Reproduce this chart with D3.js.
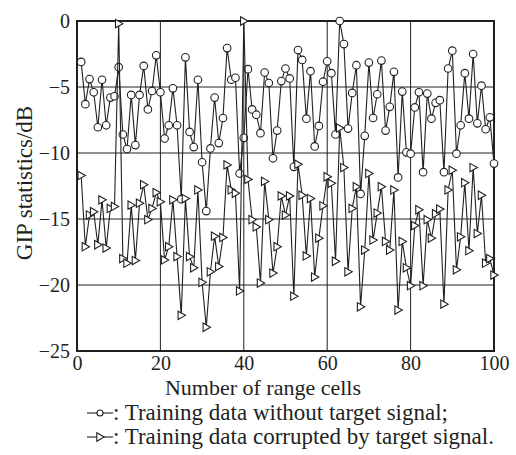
<!DOCTYPE html>
<html>
<head>
<meta charset="utf-8">
<script src="https://cdn.jsdelivr.net/npm/d3@7"></script>
<style>
	body { margin: 0; background: #fff; }
	svg text { font-family: "Liberation Serif", "Times New Roman", serif; fill: #231f20; }
</style>
</head>
<body>
<svg width="516" height="455"></svg>
<script>
// range cell index 1..100
const cells = d3.range(1, 101);

// GIP statistics (dB), training data without target signal
const cleanGip = [
	-3.1, -6.3, -4.4, -5.4, -8.05, -4.45, -7.9, -5.8, -5.7, -3.5,
	-8.6, -9.7, -5.6, -9.4, -5.6, -3.4, -6.7, -5.3, -2.6, -5.4,
	-8.9, -7.9, -5.1, -7.9, -13.5, -2.75, -8.4, -9.55, -4.45, -10.7,
	-14.4, -9.65, -5.8, -9.25, -7.35, -2.05, -4.45, -4.3, -11.55, -8.85,
	-3.65, -6.7, -7.1, -8.5, -3.9, -4.7, -10.4, -8.3, -4.55, -3.6,
	-4.35, -11.05, -2.2, -2.95, -7.4, -3.8, -9.5, -7.95, -4.6, -3.05,
	-3.95, -8.6, 0, -1.75, -8.15, -5.45, -3.35, -13.1, -8.7, -3.15,
	-7.35, -5.55, -3.0, -8.3, -6.5, -3.85, -11.85, -5.35, -9.95, -10.05,
	-6.55, -5.4, -11.45, -5.5, -7.4, -6.2, -6.0, -11.45, -3.6, -2.25,
	-10.05, -7.9, -3.95, -7.4, -2.5, -7.75, -4.9, -8.2, -7.3, -10.8
];

// GIP statistics (dB), training data corrupted by target signal
const corruptGip = [
	-11.7, -17.1, -14.7, -14.45, -16.95, -13.55, -17.2, -14.2, -14.05, -0.2,
	-18.0, -18.35, -13.95, -18.15, -13.8, -12.4, -15.05, -14.2, -13.0, -13.7,
	-18.1, -17.1, -13.55, -17.85, -22.3, -13.45, -17.85, -18.7, -12.8, -19.8,
	-23.2, -19.0, -16.3, -18.6, -16.4, -10.9, -12.8, -13.05, -20.45, 0,
	-12.0, -15.05, -15.6, -19.85, -12.15, -15.05, -19.1, -17.1, -13.25, -14.7,
	-13.25, -20.85, -10.85, -13.2, -17.8, -13.45, -19.4, -16.45, -14.0, -11.8,
	-12.3, -18.2, -8.1, -11.1, -19.0, -14.2, -12.55, -21.65, -17.35, -11.55,
	-16.6, -14.55, -12.55, -16.7, -17.35, -12.8, -21.9, -16.7, -18.7, -20.05,
	-15.5, -14.3, -20.05, -15.05, -16.45, -14.6, -14.25, -21.45, -12.8, -11.3,
	-18.85, -16.35, -12.25, -17.4, -11.1, -16.1, -13.2, -18.35, -18.0, -19.25
];

const xTicks = [0, 20, 40, 60, 80, 100];
const yTicks = [0, -5, -10, -15, -20, -25];

const legendLabels = [
	': Training data without target signal;',
	': Training data corrupted by target signal.'
];

const ink = '#231f20';
const svg = d3.select('svg');
const margin = { left: 77, right: 22, top: 21, bottom: 104 };
const width = 516, height = 455;

const x = d3.scaleLinear().domain([0, 100]).range([margin.left, width - margin.right]);
const y = d3.scaleLinear().domain([-25, 0]).range([height - margin.bottom, margin.top]);

// grid
const grid = svg.append('g').attr('stroke', ink).attr('stroke-width', 1);
grid.selectAll('.gx').data(xTicks.slice(1, -1)).enter().append('line')
	.attr('x1', d => x(d)).attr('x2', d => x(d))
	.attr('y1', y(0)).attr('y2', y(-25));
grid.selectAll('.gy').data(yTicks.slice(1, -1)).enter().append('line')
	.attr('x1', x(0)).attr('x2', x(100))
	.attr('y1', d => y(d)).attr('y2', d => y(d));

// axes (labels only, frame drawn separately)
svg.append('g')
	.attr('transform', `translate(0,${y(-25)})`)
	.call(d3.axisBottom(x).tickValues(xTicks).tickSize(0).tickPadding(5))
	.call(g => g.select('.domain').remove())
	.call(g => g.selectAll('text').attr('font-size', 20));

svg.append('g')
	.attr('transform', `translate(${x(0)},0)`)
	.call(d3.axisLeft(y).tickValues(yTicks).tickSize(0).tickPadding(7))
	.call(g => g.select('.domain').remove())
	.call(g => g.selectAll('text').attr('font-size', 20));

svg.append('rect')
	.attr('x', x(0)).attr('y', y(0))
	.attr('width', x(100) - x(0)).attr('height', y(-25) - y(0))
	.attr('fill', 'none').attr('stroke', ink).attr('stroke-width', 2);

// axis titles
svg.append('text')
	.attr('x', 263).attr('y', 395)
	.attr('text-anchor', 'middle').attr('font-size', 22)
	.text('Number of range cells');

svg.append('text')
	.attr('transform', 'translate(32,183) rotate(-90)')
	.attr('text-anchor', 'middle').attr('font-size', 23)
	.text('GIP statistics/dB');

// series
const line = d3.line().x(d => x(d[0])).y(d => y(d[1]));
const tri = 'M-3.2,-4.2L-3.2,4.2L4.2,0Z';

const clean = cells.map((c, i) => [c, cleanGip[i]]);
const corrupt = cells.map((c, i) => [c, corruptGip[i]]);

svg.append('path').datum(clean).attr('d', line)
	.attr('fill', 'none').attr('stroke', ink).attr('stroke-width', 1.1);
svg.append('g').selectAll('circle').data(clean).enter().append('circle')
	.attr('cx', d => x(d[0])).attr('cy', d => y(d[1])).attr('r', 3.8)
	.attr('fill', '#fff').attr('stroke', ink).attr('stroke-width', 1.1);

svg.append('path').datum(corrupt).attr('d', line)
	.attr('fill', 'none').attr('stroke', ink).attr('stroke-width', 1.1);
svg.append('g').selectAll('path').data(corrupt).enter().append('path')
	.attr('d', tri)
	.attr('transform', d => `translate(${x(d[0])},${y(d[1])})`)
	.attr('fill', '#fff').attr('stroke', ink).attr('stroke-width', 1.1);

// legend
const legend = svg.append('g').attr('transform', 'translate(87,0)');
const rows = [420, 444];
legendLabels.forEach((label, i) => {
	const g = legend.append('g').attr('transform', `translate(0,${rows[i]})`);
	g.append('line').attr('x1', 0).attr('x2', 26).attr('y1', -7).attr('y2', -7)
		.attr('stroke', ink).attr('stroke-width', 1.1);
	if (i === 0) {
		g.append('circle').attr('cx', 13).attr('cy', -7).attr('r', 3)
			.attr('fill', '#fff').attr('stroke', ink).attr('stroke-width', 1.1);
	} else {
		g.append('path').attr('d', tri).attr('transform', 'translate(13,-7)')
			.attr('fill', '#fff').attr('stroke', ink).attr('stroke-width', 1.1);
	}
	g.append('text').attr('x', 26).attr('y', 0).attr('font-size', 23).text(label);
});
</script>
</body>
</html>
